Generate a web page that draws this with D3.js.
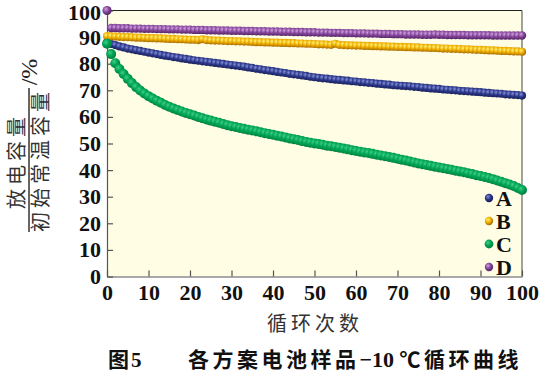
<!doctype html>
<html>
<head>
<meta charset="utf-8">
<script src="https://d3js.org/d3.v7.min.js"></script>
<style>
  body { margin: 0; background: #ffffff; }
  svg { display: block; }
</style>
</head>
<body>
<svg width="544" height="372"></svg>
<script>

// cycle numbers
var cycles = d3.range(0, 101);

// capacity ratio (%) per scheme
var seriesA = [88.0, 87.4, 87.0, 86.5, 86.1, 85.7, 85.4, 85.1, 84.8, 84.5, 84.2,
  83.9, 83.6, 83.3, 83.0, 82.8, 82.5, 82.3, 82.0, 81.8, 81.5,
  81.3, 81.1, 80.9, 80.7, 80.5, 80.3, 80.1, 79.9, 79.7, 79.5,
  79.3, 79.1, 78.9, 78.6, 78.4, 78.1, 77.9, 77.6, 77.4, 77.2,
  76.9, 76.7, 76.5, 76.2, 76.0, 75.8, 75.6, 75.4, 75.1, 74.9,
  74.7, 74.5, 74.4, 74.2, 74.0, 73.9, 73.7, 73.6, 73.4, 73.3,
  73.1, 73.0, 72.8, 72.7, 72.5, 72.4, 72.2, 72.1, 71.9, 71.8,
  71.7, 71.6, 71.5, 71.3, 71.2, 71.0, 70.9, 70.7, 70.6, 70.5,
  70.3, 70.2, 70.1, 70.0, 69.8, 69.7, 69.6, 69.5, 69.4, 69.3,
  69.1, 69.0, 68.9, 68.8, 68.7, 68.5, 68.4, 68.3, 68.2, 68.0];

var seriesB = [90.4, 90.3, 90.2, 90.1, 90.0, 90.0, 89.9, 89.8, 89.8, 89.7, 89.6,
  89.6, 89.5, 89.5, 89.4, 89.3, 89.3, 89.2, 89.2, 89.1, 89.0,
  89.0, 88.9, 89.2, 88.9, 88.8, 88.7, 88.7, 88.6, 88.5, 88.5,
  88.4, 88.4, 88.3, 88.3, 88.2, 88.1, 88.1, 88.0, 88.0, 87.9,
  87.9, 87.8, 87.8, 87.7, 87.7, 87.6, 87.6, 87.5, 87.5, 87.4,
  87.3, 87.3, 87.2, 87.1, 87.5, 87.1, 87.0, 86.9, 86.9, 86.8,
  86.8, 86.7, 86.7, 86.6, 86.6, 86.5, 86.5, 86.4, 86.4, 86.3,
  86.3, 86.2, 86.2, 86.1, 86.1, 86.0, 86.0, 85.9, 85.9, 85.8,
  85.7, 85.7, 85.6, 85.6, 85.5, 85.4, 85.4, 85.3, 85.2, 85.2,
  85.1, 85.0, 85.0, 84.9, 84.8, 84.8, 84.7, 84.6, 84.6, 84.5];

var seriesC = [87.5, 83.6, 80.2, 78.0, 76.1, 74.3, 72.7, 71.2, 69.9, 68.8, 67.8,
  66.9, 66.1, 65.3, 64.5, 63.8, 63.2, 62.6, 62.0, 61.5, 61.0,
  60.5, 60.0, 59.5, 59.0, 58.6, 58.2, 57.8, 57.3, 56.9, 56.5,
  56.2, 55.8, 55.5, 55.2, 54.9, 54.6, 54.2, 53.9, 53.6, 53.3,
  52.9, 52.6, 52.3, 51.9, 51.6, 51.3, 50.9, 50.6, 50.3, 50.0,
  49.8, 49.5, 49.2, 49.0, 48.7, 48.4, 48.1, 47.8, 47.5, 47.2,
  46.9, 46.6, 46.4, 46.1, 45.8, 45.5, 45.2, 44.9, 44.6, 44.3,
  43.9, 43.6, 43.2, 42.9, 42.5, 42.2, 41.9, 41.6, 41.3, 41.0,
  40.7, 40.4, 40.1, 39.8, 39.5, 39.2, 38.8, 38.5, 38.1, 37.8,
  37.4, 37.0, 36.6, 36.1, 35.6, 35.1, 34.6, 34.0, 33.3, 32.5];

var seriesD = [100.0, 93.4, 93.4, 93.3, 93.3, 93.3, 93.2, 93.2, 93.2, 93.1, 93.1,
  93.1, 93.0, 93.0, 93.0, 92.9, 92.9, 92.9, 92.8, 92.8, 92.8,
  92.7, 92.7, 92.7, 92.6, 92.6, 92.6, 92.5, 92.5, 92.5, 92.4,
  92.4, 92.4, 92.3, 92.3, 92.3, 92.2, 92.2, 92.2, 92.1, 92.1,
  92.1, 92.0, 92.0, 92.0, 91.9, 91.9, 91.9, 91.8, 91.8, 91.8,
  91.7, 91.7, 91.7, 91.6, 91.6, 91.6, 91.5, 91.5, 91.5, 91.4,
  91.4, 91.4, 91.3, 91.3, 91.3, 91.2, 91.2, 91.2, 91.1, 91.1,
  91.1, 91.0, 91.0, 91.0, 91.0, 90.9, 90.9, 90.9, 91.0, 90.9,
  90.9, 90.8, 90.8, 90.8, 90.8, 90.8, 90.7, 90.7, 90.7, 90.7,
  90.7, 90.7, 90.6, 90.6, 90.6, 90.6, 90.6, 90.6, 90.6, 90.6];

var seriesNames = ["A", "B", "C", "D"];
var xTicks = [0, 10, 20, 30, 40, 50, 60, 70, 80, 90, 100];
var yTicks = [0, 10, 20, 30, 40, 50, 60, 70, 80, 90, 100];

var yTitleTop = "放电容量";
var yTitleBottom = "初始常温容量";
var yTitleUnit = "/%";
var xTitle = "循环次数";

var series = [
  { name: "A", values: seriesA, base: "#2c3889", light: "#8590dc", dark: "#181f5a", r: 4.1 },
  { name: "B", values: seriesB, base: "#f0b000", light: "#fff27a", dark: "#a86a00", r: 4.1 },
  { name: "D", values: seriesD, base: "#86479c", light: "#d2a2e2", dark: "#522466", r: 4.2 },
  { name: "C", values: seriesC, base: "#00a455", light: "#3fcf83", dark: "#007f3e", r: 5.0 }
];

var svg = d3.select("svg");
var serif = "'Liberation Serif', 'Times New Roman', serif";
var cjk = "'Noto Sans CJK SC', sans-serif";

var x = d3.scaleLinear().domain([0, 100]).range([107, 522]);
var y = d3.scaleLinear().domain([0, 100]).range([276.5, 10.5]);

// ball gradients
var defs = svg.append("defs");
series.forEach(function(s) {
  var g = defs.append("radialGradient")
    .attr("id", "ball" + s.name)
    .attr("cx", "38%").attr("cy", "35%").attr("r", "65%");
  g.append("stop").attr("offset", "0%").attr("stop-color", s.light);
  g.append("stop").attr("offset", "50%").attr("stop-color", s.base);
  g.append("stop").attr("offset", "100%").attr("stop-color", s.dark);
});

// plot area
svg.append("rect")
  .attr("x", x(0)).attr("y", y(100))
  .attr("width", x(100) - x(0)).attr("height", y(0) - y(100))
  .attr("fill", "#fffde4");

// frame top + right
svg.append("line")
  .attr("x1", x(0)).attr("x2", x(100)).attr("y1", y(100)).attr("y2", y(100))
  .attr("stroke", "#222").attr("stroke-width", 1.2);
svg.append("line")
  .attr("x1", x(100)).attr("x2", x(100)).attr("y1", y(100)).attr("y2", y(0))
  .attr("stroke", "#444").attr("stroke-width", 1);

// axes with inward ticks
var xaxis = svg.append("g")
  .attr("transform", "translate(0," + y(0) + ")")
  .call(d3.axisBottom(x).tickValues(xTicks).tickSize(-6).tickPadding(8).tickSizeOuter(0));
var yaxis = svg.append("g")
  .attr("transform", "translate(" + x(0) + ",0)")
  .call(d3.axisLeft(y).tickValues(yTicks).tickSize(-6).tickPadding(7).tickSizeOuter(0));

[xaxis, yaxis].forEach(function(a) {
  a.select(".domain").attr("stroke", "#555").attr("stroke-width", 1.2);
  a.selectAll(".tick line").attr("stroke", "#555").attr("stroke-width", 1.2);
  a.selectAll(".tick text")
    .attr("fill", "#111")
    .style("font-family", serif)
    .style("font-weight", "bold")
    .style("font-size", "22px");
});
yaxis.selectAll(".tick text").attr("x", -6);
yaxis.selectAll(".tick text").filter(function(d) { return d === 100; }).attr("dy", "0.42em");

// data balls
series.forEach(function(s) {
  svg.append("g")
    .selectAll("circle")
    .data(cycles)
    .enter().append("circle")
    .attr("cx", function(d) { return x(d); })
    .attr("cy", function(d) { return y(s.values[d]); })
    .attr("r", function(d) { return s.name === "D" && d === 0 ? 4.6 : s.r; })
    .attr("fill", "url(#ball" + s.name + ")");
});

// legend
var legendY = d3.scalePoint().domain(seriesNames).range([198, 267]);
var legend = svg.append("g");
seriesNames.forEach(function(n) {
  legend.append("circle")
    .attr("cx", 489).attr("cy", legendY(n)).attr("r", n === "C" ? 4.4 : 4.2)
    .attr("fill", "url(#ball" + n + ")");
  legend.append("text")
    .attr("x", 496).attr("y", legendY(n) + 7.5)
    .style("font-family", serif).style("font-weight", "bold").style("font-size", "22px")
    .attr("fill", "#111")
    .text(n);
});

// y title as a fraction
svg.append("text")
  .attr("transform", "translate(17,161) rotate(-90)")
  .attr("text-anchor", "middle").attr("dy", "0.36em")
  .style("font-family", cjk).style("font-size", "20px").style("letter-spacing", "4px")
  .attr("fill", "#333")
  .text(yTitleTop);
svg.append("line")
  .attr("x1", 29).attr("x2", 29).attr("y1", 88).attr("y2", 232)
  .attr("stroke", "#333").attr("stroke-width", 1.5);
svg.append("text")
  .attr("transform", "translate(41,160) rotate(-90)")
  .attr("text-anchor", "middle").attr("dy", "0.36em")
  .style("font-family", cjk).style("font-size", "20px").style("letter-spacing", "4px")
  .attr("fill", "#333")
  .text(yTitleBottom);
svg.append("text")
  .attr("transform", "translate(29,72) rotate(-90)")
  .attr("text-anchor", "middle").attr("dy", "0.35em")
  .style("font-family", serif).style("font-size", "24px")
  .attr("fill", "#222")
  .text(yTitleUnit);

// x title
svg.append("text")
  .attr("x", 315).attr("y", 331)
  .attr("text-anchor", "middle")
  .style("font-family", cjk).style("font-size", "20px").style("letter-spacing", "4px")
  .attr("fill", "#333")
  .text(xTitle);

// caption: CJK parts in bold sans, numbers in bold serif
var cap = svg.append("g")
  .attr("fill", "#111")
  .style("font-weight", "bold")
  .style("font-size", "21px");
var capNo = cap.append("text").attr("x", 108).attr("y", 367);
capNo.append("tspan").style("font-family", cjk).text("图");
capNo.append("tspan").style("font-family", serif).attr("dx", 2).text("5");

var capText = cap.append("text").attr("x", 188).attr("y", 367);
capText.append("tspan").style("font-family", cjk).style("letter-spacing", "3.5px").text("各方案电池样品");
capText.append("tspan").style("font-family", serif).style("font-size", "22px").text("−10 ");
capText.append("tspan").style("font-family", cjk).style("letter-spacing", "3.5px").text("℃循环曲线");

</script>
</body>
</html>
